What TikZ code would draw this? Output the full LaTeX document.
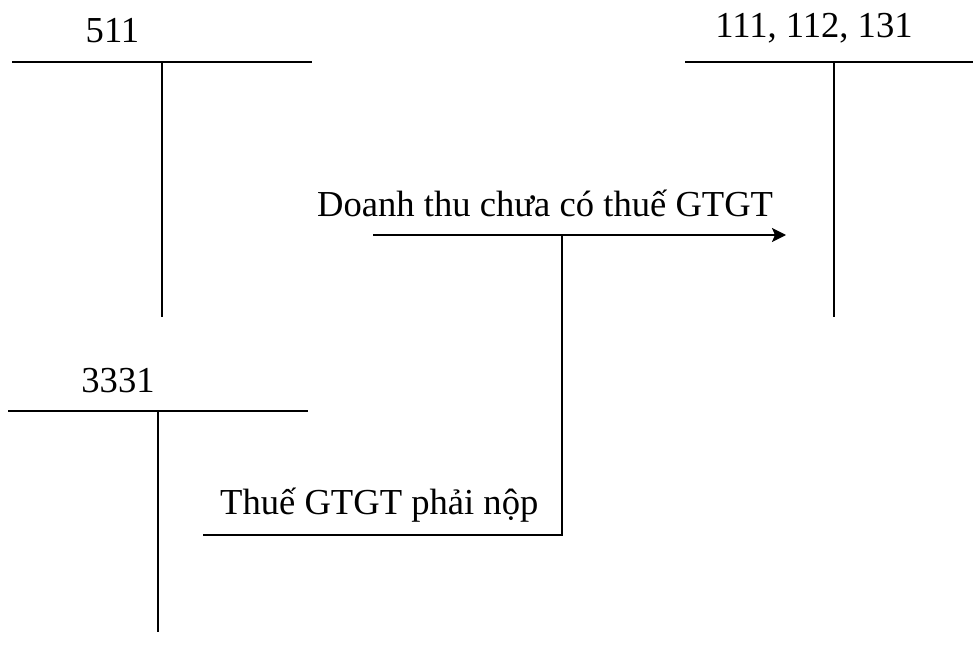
\documentclass[tikz,border=0pt]{standalone}
\usepackage{fontspec}
\setmainfont{Liberation Serif}
\usetikzlibrary{arrows.meta}
\begin{document}
\begin{tikzpicture}[x=1pt,y=-1pt,
  line/.style={line width=2pt},
  lbl/.style={anchor=base,inner sep=0pt,font=\fontsize{36.6}{40}\selectfont},
  arr/.style={line width=2pt,-{Stealth[length=14pt,width=14pt,inset=3pt]}}]
\useasboundingbox (0,0) rectangle (973,660);
% account 511
\coordinate (a1L) at (12,62);
\coordinate (a1R) at (312,62);
\coordinate (a1T) at (162,62);
\coordinate (a1B) at (162,317);
\node[lbl] (t1) at (112.5,43) {511};
\draw[line] (a1L) -- (a1R);
\draw[line] (a1T) -- (a1B);
% account 111, 112, 131
\coordinate (a2L) at (685,62);
\coordinate (a2R) at (973,62);
\coordinate (a2T) at (834,62);
\coordinate (a2B) at (834,317);
\node[lbl] (t2) at (814,38) {111, 112, 131};
\draw[line] (a2L) -- (a2R);
\draw[line] (a2T) -- (a2B);
% account 3331
\coordinate (a3L) at (8,411);
\coordinate (a3R) at (308,411);
\coordinate (a3T) at (158,411);
\coordinate (a3B) at (158,632);
\node[lbl] (t3) at (118,392) {3331};
\draw[line] (a3L) -- (a3R);
\draw[line] (a3T) -- (a3B);
% entries
\coordinate (s1) at (373,235);
\coordinate (e1) at (786,235);
\coordinate (j1) at (562,235);
\coordinate (c1) at (562,535);
\coordinate (e2) at (203,535);
\node[lbl,anchor=base west] (t4) at (317,217) {Doanh thu chưa có thuế GTGT};
\node[lbl,anchor=base west] (t5) at (220,514) {Thuế GTGT phải nộp};
\draw[arr] (s1) -- (e1);
\draw[line] (j1) -- (c1) -- (e2);
\end{tikzpicture}
\end{document}
